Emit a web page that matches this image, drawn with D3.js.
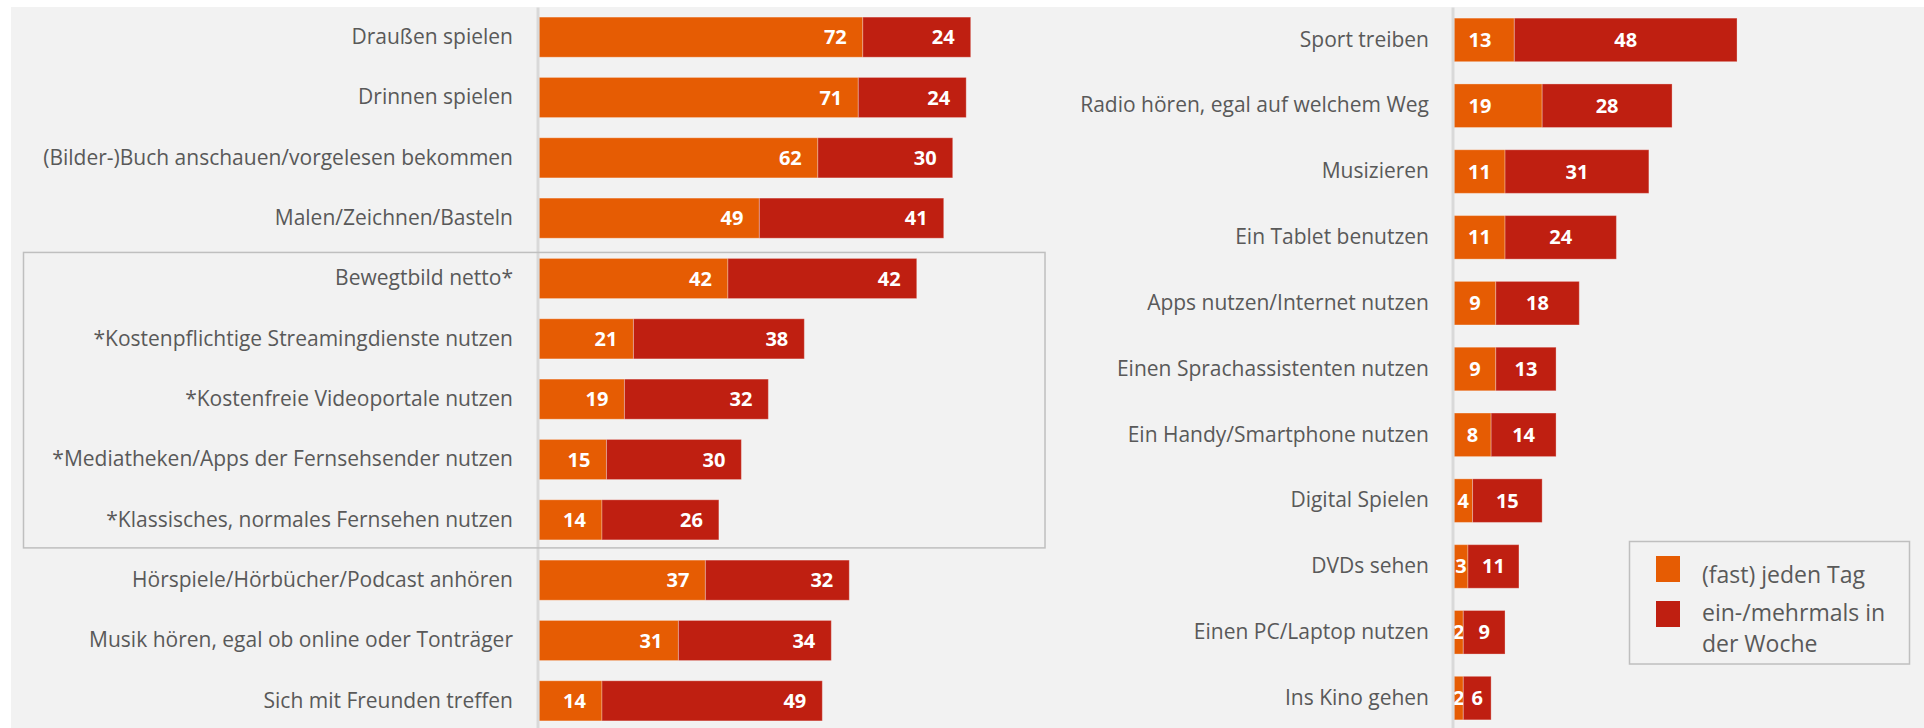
<!DOCTYPE html>
<html>
<head>
<meta charset="utf-8">
<script src="https://cdn.jsdelivr.net/npm/d3@7"></script>
<style>
  body { margin: 0; background: #fff; }
  svg { display: block; }
  text { font-family: "Open Sans", sans-serif; }
</style>
</head>
<body>
<svg id="chart" width="1924" height="728"></svg>
<script>
// data (percent)
var leftCats = ["Draußen spielen", "Drinnen spielen", "(Bilder-)Buch anschauen/vorgelesen bekommen",
  "Malen/Zeichnen/Basteln", "Bewegtbild netto*", "*Kostenpflichtige Streamingdienste nutzen",
  "*Kostenfreie Videoportale nutzen", "*Mediatheken/Apps der Fernsehsender nutzen",
  "*Klassisches, normales Fernsehen nutzen", "Hörspiele/Hörbücher/Podcast anhören",
  "Musik hören, egal ob online oder Tonträger", "Sich mit Freunden treffen"];
var leftDaily  = [72, 71, 62, 49, 42, 21, 19, 15, 14, 37, 31, 14];
var leftWeekly = [24, 24, 30, 41, 42, 38, 32, 30, 26, 32, 34, 49];

var rightCats = ["Sport treiben", "Radio hören, egal auf welchem Weg", "Musizieren",
  "Ein Tablet benutzen", "Apps nutzen/Internet nutzen", "Einen Sprachassistenten nutzen",
  "Ein Handy/Smartphone nutzen", "Digital Spielen", "DVDs sehen", "Einen PC/Laptop nutzen",
  "Ins Kino gehen"];
var rightDaily  = [13, 19, 11, 11, 9, 9, 8, 4, 3, 2, 2];
var rightWeekly = [48, 28, 31, 24, 18, 13, 14, 15, 11, 9, 6];

var legendLines = [["(fast) jeden Tag"], ["ein-/mehrmals in", "der Woche"]];
var boxedCats = ["Bewegtbild netto*", "*Klassisches, normales Fernsehen nutzen"];

var colors = ["#e65c03", "#bf1f11"];
var textColor = "#595959";

var svg = d3.select("#chart");

// background panel
svg.append("rect").attr("x", 11).attr("y", 7).attr("width", 1913).attr("height", 721)
  .attr("fill", "#f2f2f2");

function drawPanel(cats, daily, weekly, opt) {
  var rows = cats.map(function(c, i) { return {cat: c, daily: daily[i], weekly: weekly[i]}; });

  var y = d3.scaleBand().domain(cats).range([7, 731]).paddingInner(opt.pad).paddingOuter(opt.pad / 2);
  var x = d3.scaleLinear().domain([0, 100]).range([opt.x0, opt.x0 + opt.unit * 100]);

  var g = svg.append("g");

  var stack = d3.stack().keys(["daily", "weekly"])(rows);

  var layers = g.selectAll(".layer")
    .data(stack)
    .enter().append("g")
      .attr("class", "layer")
      .attr("fill", function(d, i) { return colors[i]; });

  layers.selectAll("rect")
    .data(function(d) { return d; })
    .enter().append("rect")
      .attr("x", function(d) { return x(d[0]); })
      .attr("y", function(d) { return y(d.data.cat); })
      .attr("width", function(d) { return x(d[1]) - x(d[0]); })
      .attr("height", y.bandwidth())
      .attr("stroke", "rgba(255,255,255,0.3)")
      .attr("stroke-width", 1);

  // category axis; its domain line is the vertical baseline
  var ax = g.append("g")
    .attr("transform", "translate(" + opt.axisX + ",0)")
    .call(d3.axisLeft(y).tickSize(0).tickSizeOuter(0).tickPadding(opt.axisX - opt.labelEnd));
  ax.select(".domain").attr("stroke", "#d9d9d9").attr("stroke-width", 3);
  ax.selectAll(".tick text")
    .attr("font-family", "'Open Sans', sans-serif")
    .attr("font-size", 21)
    .attr("fill", textColor);

  // value labels
  layers.selectAll("text.val")
    .data(function(d, i) { return d.map(function(e) { return {e: e, s: i}; }); })
    .enter().append("text")
      .attr("class", "val")
      .attr("fill", "#fff")
      .attr("font-weight", "bold")
      .attr("font-size", 20)
      .attr("dy", "0.35em")
      .attr("y", function(d) { return y(d.e.data.cat) + y.bandwidth() / 2; })
      .attr("text-anchor", opt.insideEnd ? "end" : "middle")
      .attr("x", function(d) {
        var a = x(d.e[0]), b = x(d.e[1]);
        if (opt.insideEnd) return b - 16;
        if (d.s === 0) return Math.min((a + b) / 2, a + 26);
        return (a + b) / 2;
      })
      .text(function(d) { return d.e[1] - d.e[0]; });

  return y;
}

var yLeft = drawPanel(leftCats, leftDaily, leftWeekly,
  {x0: 539, unit: 4.497, axisX: 537.5, labelEnd: 513, pad: 0.335, insideEnd: true});

drawPanel(rightCats, rightDaily, rightWeekly,
  {x0: 1454, unit: 4.64, axisX: 1452.5, labelEnd: 1429, pad: 0.338, insideEnd: false});

// frame around the moving-image group
var boxTop = yLeft(boxedCats[0]) - 6;
var boxBottom = yLeft(boxedCats[1]) + yLeft.bandwidth() + 8;
svg.append("rect")
  .attr("x", 23.5).attr("y", boxTop)
  .attr("width", 1045 - 23.5).attr("height", boxBottom - boxTop)
  .attr("fill", "none").attr("stroke", "#bfbfbf").attr("stroke-width", 1.5);

// legend
var legend = svg.append("g");
legend.append("rect")
  .attr("x", 1629.5).attr("y", 541.5).attr("width", 280).attr("height", 122.5)
  .attr("fill", "none").attr("stroke", "#bfbfbf").attr("stroke-width", 1.5);

var swatchY = [556, 601];
var textY = [583, 621];
legendLines.forEach(function(lines, i) {
  legend.append("rect")
    .attr("x", 1656).attr("y", swatchY[i]).attr("width", 24).attr("height", 26)
    .attr("fill", colors[i]);
  var t = legend.append("text")
    .attr("x", 1702).attr("y", textY[i])
    .attr("font-size", 23).attr("fill", textColor);
  lines.forEach(function(l, k) {
    t.append("tspan").attr("x", 1702).attr("dy", k === 0 ? 0 : 31).text(l);
  });
});
</script>
</body>
</html>
